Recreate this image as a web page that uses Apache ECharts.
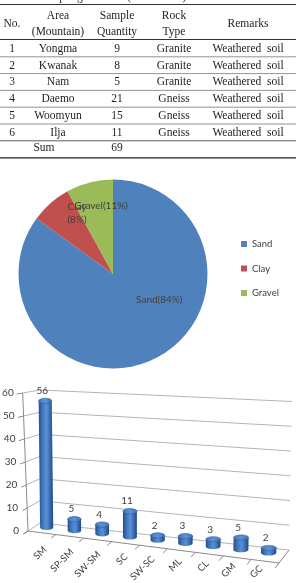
<!DOCTYPE html>
<html><head><meta charset="utf-8">
<script src="https://cdn.jsdelivr.net/npm/echarts@6/dist/echarts.min.js"></script>
<style>html,body{margin:0;padding:0;background:#fff}#c{width:296px;height:583px}</style>
</head><body><div id="c"></div>
<script>
// ---------- data ----------
const tableTitle = 'Table 4. Sampling locations(Seoul Area)';
const tableHeadTop = ['', 'Area', 'Sample', 'Rock', ''];
const tableHeadBottom = ['', '(Mountain)', 'Quantity', 'Type', ''];
const tableHeadSingle = ['No.', '', '', '', 'Remarks'];
const tableNo = ['1', '2', '3', '4', '5', '6'];
const tableArea = ['Yongma', 'Kwanak', 'Nam', 'Daemo', 'Woomyun', 'Ilja'];
const tableQty = [9, 8, 5, 21, 15, 11];
const tableRock = ['Granite', 'Granite', 'Granite', 'Gneiss', 'Gneiss', 'Gneiss'];
const tableRemarks = ['Weathered  soil', 'Weathered  soil', 'Weathered  soil', 'Weathered  soil', 'Weathered  soil', 'Weathered  soil'];
const tableSumLabel = 'Sum';
const tableSum = 69;

const pieNames = ['Sand', 'Clay', 'Gravel'];
const pieValues = [85, 7, 8];
const pieLabelPct = ['84%', '8%', '11%'];

const barCategories = ['SM', 'SP-SM', 'SW-SM', 'SC', 'SW-SC', 'ML', 'CL', 'GM', 'GC'];
const barValues = [56, 5, 4, 11, 2, 3, 3, 5, 2];
const yTicks = [0, 10, 20, 30, 40, 50, 60];

// ---------- styles / layout ----------
const SERIF = '"Liberation Serif","Times New Roman",serif';
const SANS = 'Lato,"Liberation Sans",sans-serif';
const TXT = '#404040';

const chart = echarts.init(document.getElementById('c'));

// table drawn with graphic elements
const colX = [12, 58, 117, 174, 248];
const g = [];
function txt(x, y, s, extra) {
  g.push({ type: 'text', x: x, y: y, silent: true,
    style: Object.assign({ text: String(s), fill: '#1e1e1e', font: '11.5px ' + SERIF, align: 'center', verticalAlign: 'middle' }, extra || {}) });
}
function hline(y, w, c) {
  g.push({ type: 'line', silent: true, shape: { x1: 0, y1: y, x2: 296, y2: y }, style: { stroke: c, lineWidth: w } });
}
txt(-1, 2.5, tableTitle, { align: 'left', verticalAlign: 'bottom' });
hline(4.5, 1, '#333');
for (let c = 0; c < 5; c++) {
  if (tableHeadSingle[c]) txt(colX[c], 23.5, tableHeadSingle[c]);
  if (tableHeadTop[c]) txt(colX[c], 16, tableHeadTop[c]);
  if (tableHeadBottom[c]) txt(colX[c], 32, tableHeadBottom[c]);
}
hline(39.5, 1, '#333');
for (let r = 0; r < tableNo.length; r++) {
  const y = 48.7 + r * 16.8;
  txt(colX[0], y, tableNo[r]);
  txt(colX[1], y, tableArea[r]);
  txt(colX[2], y, tableQty[r]);
  txt(colX[3], y, tableRock[r]);
  txt(colX[4], y, tableRemarks[r]);
  hline(y + 8.1, 0.8, r === tableNo.length - 1 ? '#333' : '#777');
}
txt(44, 148.3, tableSumLabel);
txt(colX[2], 148.3, tableSum);
hline(157.8, 1.3, '#222');

// 3D-ish projection for the column chart: (u along categories, t = value fraction, d = depth 0 back .. 1 front)
const C3 = {
  BLb: [40, 523], BLt: [40, 390], BRb: [289, 550], BRt: [292, 401.5],
  FLb: [28, 531], FLt: [22.7, 393], FRb: [279, 563], FRt: [283, 411]
};
// line along which the rotated category labels end
const LABEL_A = [31.5, 546.8], LABEL_B = [274.5, 568.2];
function lerp(a, b, s) { return [a[0] + (b[0] - a[0]) * s, a[1] + (b[1] - a[1]) * s]; }
function proj(u, t, d) {
  const Bb = lerp(C3.BLb, C3.BRb, u), Bt = lerp(C3.BLt, C3.BRt, u);
  const Fb = lerp(C3.FLb, C3.FRb, u), Ft = lerp(C3.FLt, C3.FRt, u);
  return lerp(lerp(Bb, Fb, d), lerp(Bt, Ft, d), t);
}
const BAR_D = 0.35, BAR_SHIFT = -3;
const GRID_C = '#b4b4b4', AXIS_C = '#8a8a8a';

function norm(cs, pt) {
  return [(pt[0] - cs.x) / cs.width, (cs.y + cs.height - pt[1]) / cs.height];
}
function seg(a, b, color, w) {
  return { type: 'line', shape: { x1: a[0], y1: a[1], x2: b[0], y2: b[1] }, style: { stroke: color, lineWidth: w || 1 } };
}

function renderFrame(params, api) {
  const cs = params.coordSys;
  const v = api.value(1);
  const t = norm(cs, api.coord([0, v]))[1];
  const ch = [];
  ch.push(seg(proj(0, t, 0), proj(1, t, 0), GRID_C));
  ch.push(seg(proj(0, t, 1), proj(0, t, 0), GRID_C));
  const a = proj(0, t, 1), b = proj(0, t, 0);
  const tick = [a[0] - (b[0] - a[0]) * 0.35, a[1] - (b[1] - a[1]) * 0.35];
  ch.push(seg(a, tick, AXIS_C));
  ch.push({ type: 'text', x: a[0] - 9, y: a[1], style: { text: String(v), fill: TXT, font: '10px ' + SANS, align: 'right', verticalAlign: 'middle' } });
  if (params.dataIndex === 0) {
    ch.push(seg(proj(0, 0, 1), proj(0, 1, 1), AXIS_C));
    ch.push(seg(proj(0, 0, 1), proj(1, 0, 1), AXIS_C));
    ch.push(seg(proj(1, 0, 1), proj(1, 0, 0), AXIS_C));
    const bw = api.size([1, 0])[0];
    for (let k = 0; k <= barCategories.length; k++) {
      const c = api.coord([Math.min(k, barCategories.length - 1), 0]);
      const px = k < barCategories.length ? c[0] - bw / 2 : c[0] + bw / 2;
      const u = (px - cs.x) / cs.width;
      const f = proj(u, 0, 1), bk = proj(u, 0, 0);
      ch.push(seg(f, [f[0] - (bk[0] - f[0]) * 0.4, f[1] - (bk[1] - f[1]) * 0.4], AXIS_C));
    }
  }
  return { type: 'group', children: ch };
}

function renderBar(params, api) {
  const cs = params.coordSys;
  const i = api.value(0), v = api.value(1);
  const ut = norm(cs, api.coord([i, v]));
  const u = ut[0], t = ut[1];
  const B = proj(u, 0, BAR_D), T = proj(u, t, BAR_D);
  B[0] += BAR_SHIFT; T[0] += BAR_SHIFT;
  const rx = 6.5 + u * 1.2, ry = 2.6;
  const pts = [[T[0] - rx, T[1]]];
  for (let k = 0; k <= 18; k++) {
    const a = Math.PI - Math.PI * k / 18;
    pts.push([B[0] + rx * Math.cos(a), B[1] + ry * Math.sin(a)]);
  }
  pts.push([T[0] + rx, T[1]]);
  const body = new echarts.graphic.LinearGradient(0, 0, 1, 0, [
    { offset: 0, color: '#22508f' }, { offset: 0.35, color: '#4a80c8' },
    { offset: 0.55, color: '#5a8fd4' }, { offset: 0.8, color: '#3567ac' }, { offset: 1, color: '#1f4a85' }
  ]);
  const topFill = new echarts.graphic.LinearGradient(0, 0, 1, 0, [
    { offset: 0, color: '#3f74bc' }, { offset: 0.5, color: '#5d92d6' }, { offset: 1, color: '#3b6fb5' }
  ]);
  const la = lerp(LABEL_A, LABEL_B, u);
  return {
    type: 'group',
    children: [
      { type: 'polygon', shape: { points: pts }, style: { fill: body } },
      { type: 'ellipse', shape: { cx: T[0], cy: T[1], rx: rx, ry: ry }, style: { fill: topFill, stroke: '#2c5a98', lineWidth: 0.6 } },
      { type: 'text', x: T[0] - 3, y: T[1] - 10, style: { text: String(v), fill: TXT, font: '10px ' + SANS, align: 'center', verticalAlign: 'middle' } },
      { type: 'text', x: la[0], y: la[1], rotation: Math.PI / 4,
        style: { text: barCategories[i], fill: TXT, font: '9.5px ' + SANS, align: 'right', verticalAlign: 'middle' } }
    ]
  };
}

const pieDx = [23.5, -2.75, 0.75];
const pieDy = [-19, -23, -19.2];

chart.setOption({
  animation: false,
  color: ['#4F81BD', '#C0504D', '#9BBB59'],
  graphic: g,
  legend: {
    orient: 'vertical', left: 241, top: 238, itemWidth: 6, itemHeight: 6, itemGap: 12.5, icon: 'rect',
    padding: 0, selectedMode: false, data: pieNames,
    textStyle: { color: TXT, fontSize: 9.5, fontFamily: SANS, lineHeight: 12 }
  },
  grid: { left: 40, top: 390, width: 250, height: 133 },
  xAxis: { type: 'category', data: barCategories, show: false },
  yAxis: { type: 'value', min: 0, max: 60, interval: 10, show: false },
  series: [
    {
      type: 'pie', center: [113, 274], radius: 94.5, startAngle: 90, clockwise: true, silent: true,
      data: pieNames.map((n, k) => ({ name: n, value: pieValues[k] })),
      itemStyle: { borderWidth: 0 },
      label: {
        position: 'inside', color: TXT, fontSize: 10, fontFamily: SANS, lineHeight: 13,
        formatter: p => pieNames[p.dataIndex] + (p.dataIndex === 1 ? '\n' : '') + '(' + pieLabelPct[p.dataIndex] + ')'
      },
      labelLine: { show: false },
      labelLayout: p => ({ dx: pieDx[p.dataIndex], dy: pieDy[p.dataIndex] }),
      emphasis: { disabled: true }
    },
    {
      type: 'custom', z: 1, silent: true, renderItem: renderFrame,
      data: yTicks.map(v => [0, v])
    },
    {
      type: 'custom', z: 2, silent: true, renderItem: renderBar,
      data: barValues.map((v, k) => [k, v])
    }
  ]
});
</script>
</body></html>
